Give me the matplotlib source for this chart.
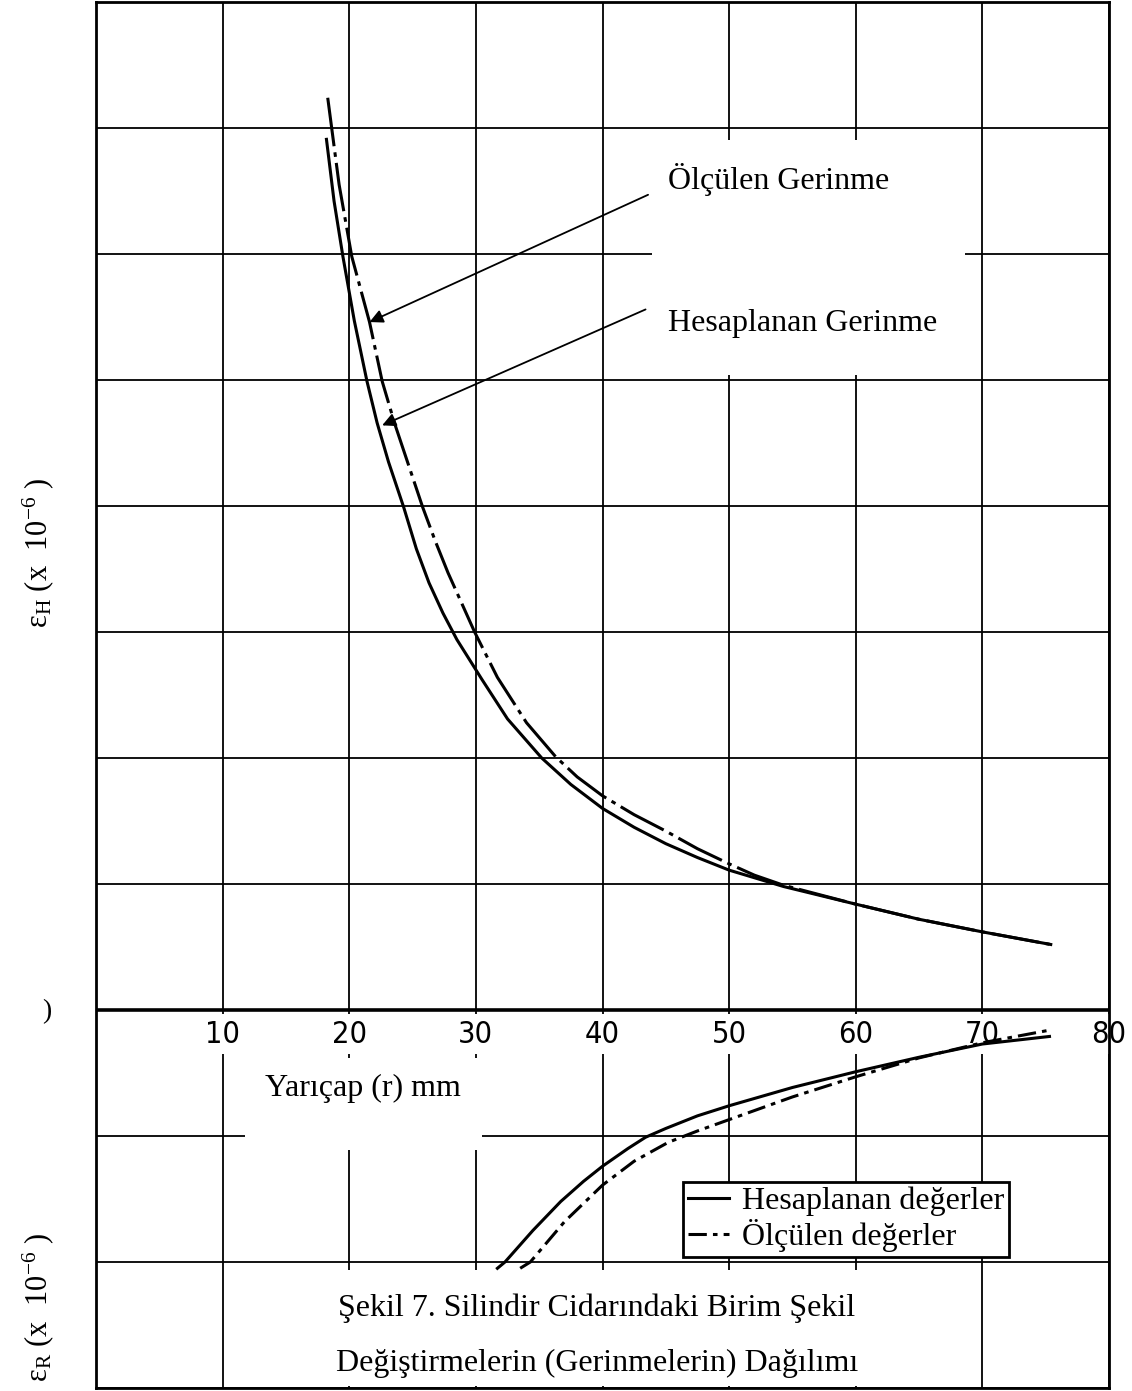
import matplotlib
matplotlib.use("Agg")
import matplotlib.pyplot as plt
from matplotlib.patches import Rectangle

# figure size in pixels (dpi 100)
W, H = 1132, 1391

# radius axis (mm) and grid
x_ticks = [0, 10, 20, 30, 40, 50, 60, 70, 80]
x_labels = ["10", "20", "30", "40", "50", "60", "70", "80"]
y_grid = [-3, -2, -1, 0, 1, 2, 3, 4, 5, 6, 7, 8]   # one unit = one grid cell

# hoop strain eps_H (grid-cell units)
r_hes_H = [18.2, 18.8, 19.5, 20.4, 21.4, 22.2, 23.1, 24.3, 25.3, 26.3, 27.4, 28.5, 30.5,
           32.5, 35.2, 37.5, 40.0, 42.5, 45.0, 47.5, 50.0, 54.3, 60.0, 65.0, 70.0, 75.4]
eps_hes_H = [6.91, 6.42, 5.98, 5.47, 4.99, 4.66, 4.35, 3.99, 3.66, 3.39, 3.15, 2.94, 2.62,
             2.31, 2.00, 1.79, 1.60, 1.45, 1.32, 1.21, 1.11, 0.98, 0.84, 0.72, 0.62, 0.52]
r_olc_H = [18.3, 19.2, 20.2, 21.6, 22.6, 23.6, 24.6, 25.8, 26.8, 27.8, 29.9, 31.7, 34.0,
           36.3, 38.0, 40.0, 42.5, 45.0, 47.5, 50.0, 52.0, 54.3, 60.0, 65.0, 70.0, 75.4]
eps_olc_H = [7.24, 6.55, 5.98, 5.46, 4.99, 4.65, 4.35, 3.99, 3.72, 3.47, 3.00, 2.64, 2.28,
             2.01, 1.85, 1.70, 1.55, 1.42, 1.28, 1.16, 1.07, 0.99, 0.84, 0.72, 0.62, 0.52]

# radial strain eps_R
r_hes_R = [31.7, 32.3, 34.5, 36.7, 38.5, 40.0, 42.0, 43.4, 45.0, 47.5, 50.0, 55.0,
           60.0, 65.0, 70.0, 75.3]
eps_hes_R = [-2.05, -2.00, -1.75, -1.52, -1.36, -1.24, -1.10, -1.01, -0.94, -0.84, -0.76,
             -0.615, -0.49, -0.375, -0.27, -0.21]
r_olc_R = [33.5, 34.3, 37.0, 40.0, 42.5, 45.2, 47.5, 50.0, 55.0, 60.0, 65.0, 70.0, 75.3]
eps_olc_R = [-2.05, -2.00, -1.68, -1.39, -1.20, -1.05, -0.96, -0.87, -0.69, -0.53, -0.38,
             -0.26, -0.16]

serif = "Liberation Serif"
plt.rcParams["font.family"] = [serif, "DejaVu Serif"]
plt.rcParams["mathtext.fontset"] = "custom"
plt.rcParams["mathtext.rm"] = serif
plt.rcParams["mathtext.it"] = serif + ":italic"


def fx(px):
    return px / W


def fy(py):
    return 1 - py / H


fig = plt.figure(figsize=(W / 100, H / 100), dpi=100)
ax = fig.add_axes([fx(96), fy(1388), fx(1109) - fx(96), fy(2) - fy(1388)])
ax.set_xlim(0, 80)
ax.set_ylim(-3, 8)
ax.set_xticks(x_ticks)
ax.set_yticks(y_grid)
ax.tick_params(length=0, labelbottom=False, labelleft=False)
ax.set_axisbelow(True)
ax.grid(True, color="black", lw=1.3)
for s in ax.spines.values():
    s.set_linewidth(2)
ax.axhline(0, color="black", lw=2.6, zorder=2)

ax.plot(r_hes_H, eps_hes_H, color="black", lw=2.2)
ax.plot(r_olc_H, eps_olc_H, color="black", lw=2.2, linestyle=(0, (16, 2, 1.5, 2)))
l_hes, = ax.plot(r_hes_R, eps_hes_R, color="black", lw=2.2)
l_olc, = ax.plot(r_olc_R, eps_olc_R, color="black", lw=2.2, linestyle=(0, (6, 2, 1.5, 2)))

# white patches pasted over the grid in the scan
def white(x0, y0, x1, y1):
    ax.add_patch(Rectangle((fx(x0), fy(y1)), fx(x1) - fx(x0), fy(y0) - fy(y1),
                           transform=fig.transFigure, facecolor="white",
                           edgecolor="none", zorder=1, clip_on=False))

white(100, 1014, 1132, 1054)   # tick label strip
white(652, 140, 965, 375)      # annotation texts
white(245, 1058, 482, 1150)    # x label
white(335, 1270, 968, 1386)    # caption

# x tick numbers inside the plot, under the zero line
for v, lab in zip(x_ticks[1:], x_labels):
    ax.text(v, -0.08, lab, ha="center", va="top", fontsize=22,
            family="DejaVu Sans", fontstretch="condensed", zorder=3)

ax.text(fx(265), fy(1088), "Yarıçap (r) mm", transform=fig.transFigure,
        ha="left", va="center", fontsize=23, zorder=5)

# arrows to the curves
arrow = dict(arrowstyle="-|>", color="black", lw=1.3, mutation_scale=20,
             shrinkA=0, shrinkB=0)
ax.annotate("", xy=(21.6, 5.46), xytext=(43.6, 6.47), arrowprops=arrow, zorder=4)
ax.annotate("", xy=(22.6, 4.64), xytext=(43.4, 5.56), arrowprops=arrow, zorder=4)
ax.text(fx(668), fy(180), "Ölçülen Gerinme", transform=fig.transFigure,
        ha="left", va="center", fontsize=23, zorder=5)
ax.text(fx(668), fy(323), "Hesaplanan Gerinme", transform=fig.transFigure,
        ha="left", va="center", fontsize=23, zorder=5)

leg = ax.legend([l_hes, l_olc], ["Hesaplanan değerler", "Ölçülen değerler"],
                loc="upper left", bbox_to_anchor=(fx(683), fy(1182)),
                bbox_transform=fig.transFigure, fontsize=23, frameon=True,
                fancybox=False, framealpha=1, edgecolor="black",
                handlelength=1.3, handletextpad=0.4, labelspacing=0.1,
                borderpad=0.15, borderaxespad=0)
leg.get_frame().set_linewidth(2)
leg.set_zorder(6)

ax.text(fx(597), fy(1308), "Şekil 7. Silindir Cidarındaki Birim Şekil",
        transform=fig.transFigure, ha="center", va="center", fontsize=23, zorder=5)
ax.text(fx(597), fy(1363), "Değiştirmelerin (Gerinmelerin) Dağılımı",
        transform=fig.transFigure, ha="center", va="center", fontsize=23, zorder=5)

# axis titles
fig.text(fx(38), fy(553), r"ε$_{\mathrm{H}}$ (x  10$^{-6}$ )", rotation=90,
         ha="center", va="center", fontsize=22)
fig.text(fx(38), fy(1308), r"ε$_{\mathrm{R}}$ (x  10$^{-6}$ )", rotation=90,
         ha="center", va="center", fontsize=22)
fig.text(fx(47), fy(1012), ")", ha="center", va="center", fontsize=20)

fig.savefig("out.png", dpi=100)
